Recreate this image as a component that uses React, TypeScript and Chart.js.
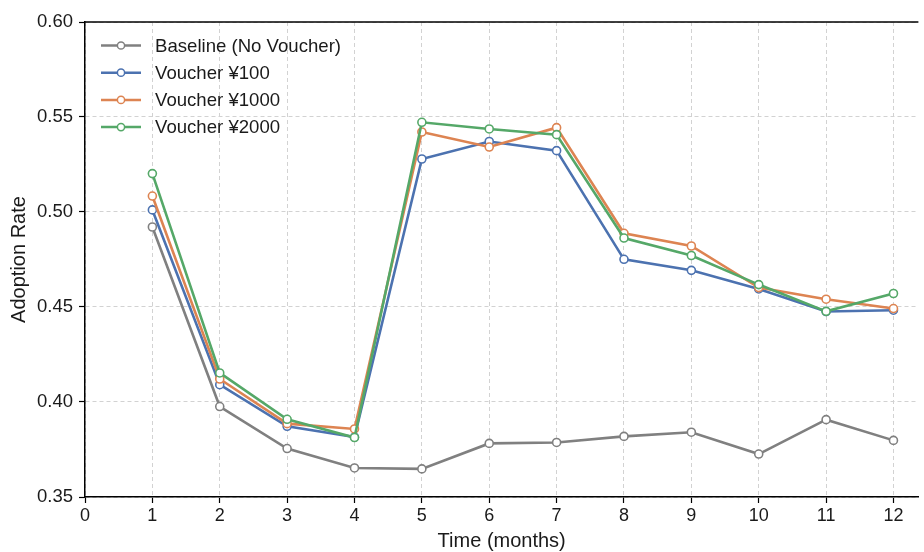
import React, { useEffect, useRef } from "react";
import { Chart, registerables } from "chart.js";

Chart.register(...registerables);

const months = [1, 2, 3, 4, 5, 6, 7, 8, 9, 10, 11, 12];
const baseline = [0.4921, 0.3976, 0.3755, 0.3653, 0.3648, 0.3782, 0.3787, 0.3819, 0.3841, 0.3726, 0.3907, 0.3798];
const voucher100 = [0.5011, 0.4091, 0.3872, 0.3815, 0.5279, 0.5371, 0.5323, 0.4751, 0.4693, 0.4595, 0.4476, 0.4483];
const voucher1000 = [0.5084, 0.4121, 0.3886, 0.3858, 0.5421, 0.5342, 0.5444, 0.4888, 0.4821, 0.4602, 0.4541, 0.4492];
const voucher2000 = [0.5202, 0.4153, 0.3909, 0.3813, 0.5472, 0.5437, 0.5407, 0.4863, 0.4771, 0.4618, 0.4477, 0.4571];
const seriesLabels = ["Baseline (No Voucher)", "Voucher ¥100", "Voucher ¥1000", "Voucher ¥2000"];
const seriesColors = ["#808080", "#4c72b0", "#dd8452", "#55a868"];
const xTitle = "Time (months)";
const yTitle = "Adoption Rate";

const FONT = "'Liberation Sans', Arial, Helvetica, sans-serif";

const legendPlugin = {
  id: "customLegend",
  afterDraw(chart: any) {
    const ctx = chart.ctx;
    const area = chart.chartArea;
    ctx.save();
    ctx.strokeStyle = "#000";
    ctx.lineWidth = 1.5;
    ctx.beginPath();
    ctx.moveTo(area.left, area.top);
    ctx.lineTo(area.right, area.top);
    ctx.stroke();

    const x0 = 101;
    const x1 = 141;
    const tx = 155;
    let y = 45.5;
    ctx.font = `18.6px ${FONT}`;
    ctx.textBaseline = "middle";
    ctx.textAlign = "left";
    chart.data.datasets.forEach((ds: any) => {
      ctx.strokeStyle = ds.borderColor;
      ctx.lineWidth = 2.5;
      ctx.beginPath();
      ctx.moveTo(x0, y);
      ctx.lineTo(x1, y);
      ctx.stroke();
      ctx.beginPath();
      ctx.arc((x0 + x1) / 2, y, 3.6, 0, Math.PI * 2);
      ctx.fillStyle = "#fff";
      ctx.fill();
      ctx.lineWidth = 1.5;
      ctx.stroke();
      ctx.fillStyle = "#1a1a1a";
      ctx.fillText(ds.label, tx, y + 1);
      y += 27.2;
    });
    ctx.restore();
  },
};

export default function App() {
  const ref = useRef<HTMLCanvasElement | null>(null);

  useEffect(() => {
    if (!ref.current) return;
    const all = [baseline, voucher100, voucher1000, voucher2000];
    const datasets = all.map((arr, i) => ({
      label: seriesLabels[i],
      data: months.map((m, j) => ({ x: m, y: arr[j] })),
      borderColor: seriesColors[i],
      backgroundColor: "#ffffff",
      pointBackgroundColor: "#ffffff",
      pointBorderColor: seriesColors[i],
      pointRadius: 4,
      pointBorderWidth: 1.6,
      borderWidth: 2.6,
      tension: 0,
      fill: false,
      order: 3 - i,
    }));
    const gridCommon = {
      color: "#d2d2d2",
      lineWidth: 1,
      drawTicks: true,
      tickLength: 6,
      tickColor: "#000",
      tickWidth: 1.2,
      tickBorderDash: [],
    };
    const borderCommon = { display: true, color: "#000", width: 1.5, dash: [4, 3] };
    const chart = new Chart(ref.current, {
      type: "line",
      data: { datasets },
      plugins: [legendPlugin],
      options: {
        animation: false,
        responsive: false,
        devicePixelRatio: 1,
        layout: { padding: { top: 22, left: 0, right: 0, bottom: 0 } },
        plugins: { legend: { display: false }, tooltip: { enabled: false } },
        scales: {
          x: {
            type: "linear",
            min: 0,
            max: 12.37,
            afterFit: (s: any) => {
              s.height = 55;
            },
            ticks: {
              stepSize: 1,
              includeBounds: false,
              autoSkip: false,
              maxRotation: 0,
              padding: 2,
              color: "#1a1a1a",
              font: { family: FONT, size: 18 },
              callback: (v: any) => String(v),
            },
            grid: gridCommon,
            border: borderCommon,
            title: {
              display: true,
              text: xTitle,
              color: "#1a1a1a",
              font: { family: FONT, size: 20, lineHeight: 1.1 },
              padding: { top: 0, bottom: 0 },
            },
          },
          y: {
            type: "linear",
            min: 0.35,
            max: 0.6,
            afterFit: (s: any) => {
              s.width = 85;
            },
            ticks: {
              stepSize: 0.05,
              padding: 6,
              color: "#1a1a1a",
              font: { family: FONT, size: 18.5 },
              callback: (v: any) => Number(v).toFixed(2),
            },
            grid: gridCommon,
            border: borderCommon,
            title: {
              display: true,
              text: yTitle,
              color: "#1a1a1a",
              font: { family: FONT, size: 20, lineHeight: 1.2 },
              padding: { top: 7, bottom: 0 },
            },
          },
        },
      },
    } as any);
    return () => chart.destroy();
  }, []);

  return (
    <div style={{ position: "fixed", left: 0, top: 0, width: 924, height: 552, background: "#fff" }}>
      <canvas ref={ref} width={924} height={552} style={{ display: "block" }} />
    </div>
  );
}
